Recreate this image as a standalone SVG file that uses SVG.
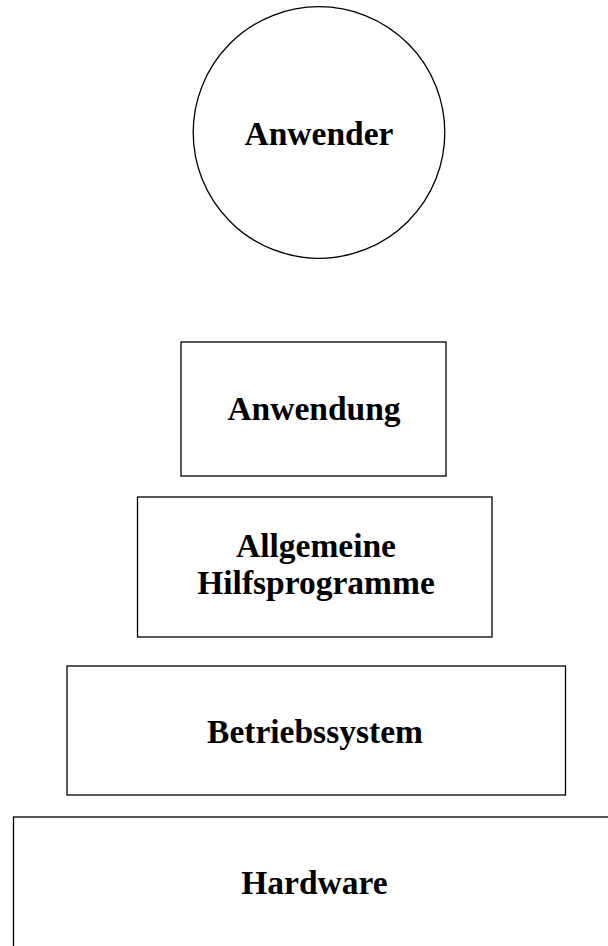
<svg xmlns="http://www.w3.org/2000/svg" width="608" height="946" viewBox="0 0 608 946">
<style>
.shape{fill:#fff;stroke:#000;stroke-width:1.3}
.lbl{font-family:"Liberation Serif","Times New Roman",serif;font-weight:bold;font-size:33.5px;fill:#000;text-anchor:middle}
</style>
<rect width="608" height="946" fill="#fff"/>
<g id="anwender">
<circle class="shape" cx="319" cy="132.5" r="125.8"/>
<text class="lbl" x="319" y="145">Anwender</text>
</g>
<g id="anwendung">
<rect class="shape" x="181" y="342" width="265" height="134"/>
<text class="lbl" x="314" y="420">Anwendung</text>
</g>
<g id="hilfsprogramme">
<rect class="shape" x="137.5" y="497" width="354.5" height="140"/>
<text class="lbl" x="316" y="557">Allgemeine</text>
<text class="lbl" x="316" y="594">Hilfsprogramme</text>
</g>
<g id="betriebssystem">
<rect class="shape" x="67" y="666" width="498.5" height="129"/>
<text class="lbl" x="315" y="743">Betriebssystem</text>
</g>
<g id="hardware">
<rect class="shape" x="13.5" y="817" width="620" height="160"/>
<text class="lbl" x="314.5" y="894">Hardware</text>
</g>
<g id="connectors"></g>
</svg>
